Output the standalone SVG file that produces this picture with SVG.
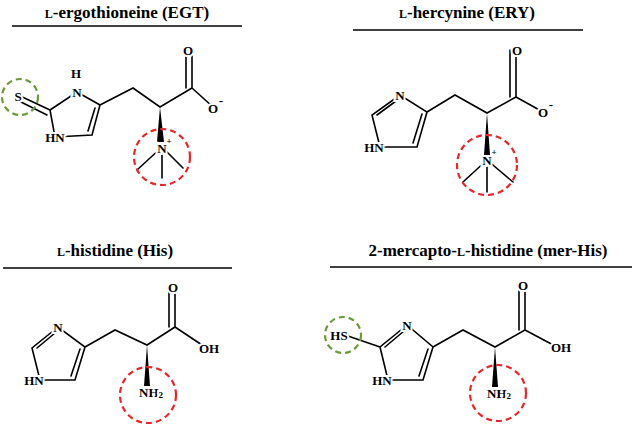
<svg xmlns="http://www.w3.org/2000/svg" width="635" height="424" viewBox="0 0 635 424">
<style>
.b{stroke:#000;stroke-width:1.6;fill:none;stroke-linecap:round}
.t{font-family:"Liberation Serif","Times New Roman",serif;font-weight:bold;font-size:17px;text-anchor:middle}
.a{font-family:"Liberation Serif","Times New Roman",serif;font-weight:bold;font-size:13px;text-anchor:middle;dominant-baseline:central;stroke:#fff;stroke-width:4;paint-order:stroke fill;fill:#000}
.sc{font-size:12px}
.r{fill:none;stroke:#e8262a;stroke-width:2.2;stroke-dasharray:6 4}
.g{fill:none;stroke:#6a9a3c;stroke-width:2.2;stroke-dasharray:6 4}
.l{stroke:#000;stroke-width:1.5}
</style>
<rect width="635" height="424" fill="#fff"/>
<g id="EGT">
<text class="t" x="127" y="18"><tspan class="sc">L</tspan>-ergothioneine  (EGT)</text>
<line class="l" x1="12" y1="26" x2="242" y2="26"/>
<path class="b" d="M50 110L77 92L100 105L92 135L55 137Z M95 108L88 131 M100 105L133 88L160 107L192 88L192 50 M186 88L186 50 M192 88L213 107 M50 110L18 95 M47 115L17 100"/>
<path d="M160 107L157 142L164 142Z"/>
<path class="b" d="M162 147L137 170 M162 147L162 178 M162 147L183 168"/>
<text class="a" x="77" y="92">N</text><text class="a" x="76" y="73">H</text>
<text class="a" x="55" y="137">HN</text><text class="a" x="18" y="96">S</text>
<text class="a" x="188" y="50">O</text><text class="a" x="213" y="108">O</text>
<text class="a" x="221" y="100" style="stroke:none">-</text>
<text class="a" x="162" y="148">N</text><text class="a" x="169" y="141" style="font-size:9px;stroke:none">+</text>
<circle class="r" cx="162" cy="157" r="28"/>
<circle class="g" cx="20" cy="97" r="18"/>
</g>
<g id="ERY">
<text class="t" x="467" y="18"><tspan class="sc">L</tspan>-hercynine  (ERY)</text>
<line class="l" x1="353" y1="30" x2="583" y2="30"/>
<path class="b" d="M400 95L372 115L380 147L417 147L427 112Z M396 101L377 115 M422 114L413 143 M427 112L455 95L487 113L516 97L516 50 M510 97L510 50 M516 97L543 112"/>
<path d="M487 113L484 155L490 155Z"/>
<path class="b" d="M487 160L463 182 M487 160L487 192 M487 160L513 182"/>
<text class="a" x="400" y="95">N</text><text class="a" x="374" y="147">HN</text>
<text class="a" x="517" y="50">O</text><text class="a" x="543" y="112">O</text>
<text class="a" x="551" y="104" style="stroke:none">-</text>
<text class="a" x="487" y="160">N</text><text class="a" x="494" y="152" style="font-size:9px;stroke:none">+</text>
<circle class="r" cx="487" cy="165" r="30"/>
</g>
<g id="His">
<text class="t" x="115" y="256"><tspan class="sc">L</tspan>-histidine  (His)</text>
<line class="l" x1="3" y1="268" x2="232" y2="268"/>
<path class="b" d="M58 327L32 348L40 380L75 380L85 347Z M55 333L37 348 M80 349L71 376 M85 347L115 330L147 345L175 327L175 287 M169 327L169 287 M175 327L205 347"/>
<path d="M147 345L144 386L150 386Z"/>
<text class="a" x="58" y="327">N</text><text class="a" x="34" y="380">HN</text>
<text class="a" x="173" y="287">O</text><text class="a" x="209" y="348">OH</text>
<text class="a" x="151" y="392">NH<tspan dy="3" style="font-size:9px">2</tspan></text>
<circle class="r" cx="148" cy="395" r="28"/>
</g>
<g id="merHis">
<text class="t" x="488" y="256">2-mercapto-<tspan class="sc">L</tspan>-histidine  (mer-His)</text>
<line class="l" x1="330" y1="267" x2="632" y2="267"/>
<path class="b" d="M407 325L380 347L388 380L423 380L433 347Z M404 331L385 347 M428 349L419 376 M433 347L463 330L495 347L525 330L525 285 M519 330L519 285 M525 330L557 347 M380 347L345 335"/>
<path d="M495 347L492 387L498 387Z"/>
<text class="a" x="407" y="325">N</text><text class="a" x="382" y="380">HN</text>
<text class="a" x="339" y="335">HS</text>
<text class="a" x="523" y="285">O</text><text class="a" x="561" y="347">OH</text>
<text class="a" x="499" y="393">NH<tspan dy="3" style="font-size:9px">2</tspan></text>
<circle class="r" cx="498" cy="393" r="28"/>
<circle class="g" cx="343" cy="335" r="18"/>
</g>
</svg>
